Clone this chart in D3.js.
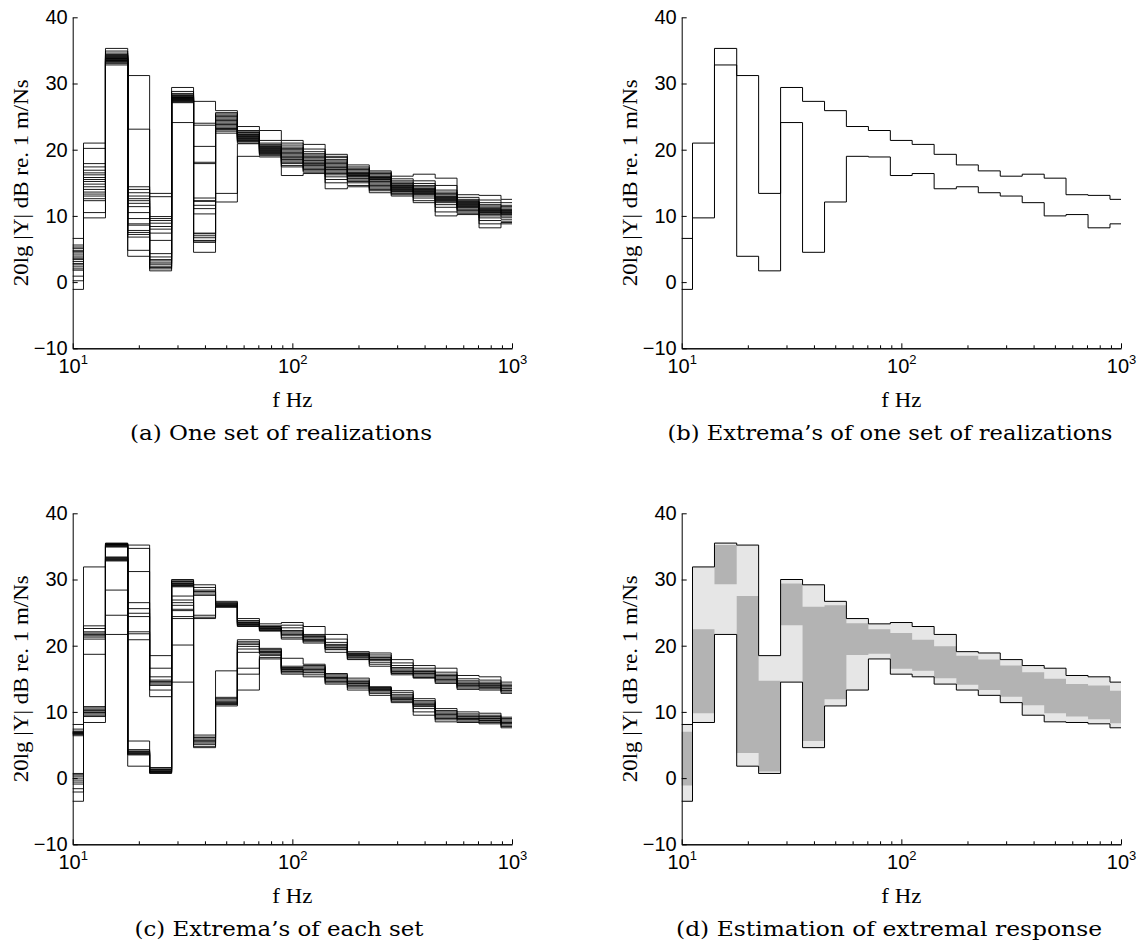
<!DOCTYPE html>
<html>
<head>
<meta charset="utf-8">
<script src="https://cdn.jsdelivr.net/npm/d3@7"></script>
<style>
  body { margin: 0; background: #fff; }
</style>
</head>
<body>
<div id="chart"></div>
<script>
// third-octave band edges (Hz), 21 bands centred 10 Hz ... 1000 Hz
const bandEdges = [8.91, 11.2, 14.1, 17.8, 22.4, 28.2, 35.5, 44.7, 56.2, 70.8, 89.1, 112, 141, 178, 224, 282, 355, 447, 562, 708, 891, 1122];
const yTicks = [-10, 0, 10, 20, 30, 40];
const xMajorTicks = [10, 100, 1000];
const xMinorTicks = [20, 30, 40, 50, 60, 70, 80, 90, 200, 300, 400, 500, 600, 700, 800, 900];

// (a) one set of realizations: band values of each realization, one array per band
const setA = [
  [6.6, 5.6, 5.3, 5.1, 4.8, 4.6, 4.4, 4.1, 3.8, 3.6, 3.4, 3.1, 2.8, 2.6, 2.3, 2.0, 1.8, 0.9, 0.2, -1.1],
  [21.0, 20.2, 17.9, 17.4, 16.9, 16.5, 16.2, 15.8, 15.5, 15.2, 14.8, 14.4, 14.0, 13.6, 13.3, 13.0, 12.6, 12.3, 10.5, 9.7],
  [35.3, 34.9, 34.6, 34.4, 34.3, 34.2, 34.1, 34.0, 33.9, 33.8, 33.8, 33.7, 33.6, 33.5, 33.5, 33.4, 33.3, 33.2, 33.0, 32.8],
  [31.2, 23.1, 14.4, 14.0, 13.5, 13.0, 12.6, 12.3, 11.9, 11.4, 10.5, 9.6, 8.8, 8.6, 7.8, 7.5, 7.2, 6.8, 4.8, 3.9],
  [13.4, 12.9, 9.9, 9.6, 9.3, 8.9, 8.4, 8.0, 7.4, 6.3, 4.3, 3.8, 3.4, 3.2, 2.9, 2.7, 2.4, 2.2, 2.0, 1.7],
  [29.4, 28.8, 28.5, 28.3, 28.2, 28.1, 28.0, 27.9, 27.9, 27.8, 27.7, 27.7, 27.6, 27.5, 27.5, 27.4, 27.3, 27.2, 27.1, 24.1],
  [27.3, 24.0, 23.7, 20.5, 18.1, 17.9, 12.7, 12.3, 12.2, 11.6, 11.1, 10.3, 7.4, 7.3, 7.0, 6.7, 6.3, 6.2, 6.0, 4.5],
  [25.9, 25.6, 25.4, 25.2, 25.0, 24.8, 24.6, 24.4, 24.2, 24.0, 23.8, 23.6, 23.4, 23.2, 23.1, 23.0, 22.8, 22.5, 13.4, 12.1],
  [23.5, 22.9, 22.7, 22.6, 22.4, 22.3, 22.2, 22.1, 22.0, 21.9, 21.8, 21.7, 21.6, 21.5, 21.4, 21.3, 21.2, 21.0, 20.9, 19.0],
  [22.9, 21.4, 21.0, 20.8, 20.6, 20.5, 20.4, 20.3, 20.2, 20.1, 20.0, 19.9, 19.8, 19.7, 19.6, 19.5, 19.4, 19.3, 19.1, 18.9],
  [21.4, 21.0, 20.7, 20.4, 20.2, 20.0, 19.8, 19.6, 19.4, 19.2, 19.0, 18.8, 18.6, 18.5, 18.3, 18.1, 17.9, 17.6, 17.4, 16.1],
  [20.8, 20.1, 19.7, 19.4, 19.2, 19.0, 18.8, 18.6, 18.4, 18.3, 18.1, 17.9, 17.8, 17.6, 17.4, 17.2, 17.0, 16.8, 16.6, 16.4],
  [19.3, 19.0, 18.8, 18.5, 18.3, 18.1, 17.9, 17.7, 17.5, 17.3, 17.1, 17.0, 16.8, 16.6, 16.4, 16.2, 15.9, 15.5, 15.0, 14.1],
  [17.7, 17.4, 17.2, 17.0, 16.8, 16.6, 16.5, 16.4, 16.3, 16.2, 16.1, 16.0, 15.9, 15.7, 15.6, 15.4, 15.2, 15.0, 14.6, 14.4],
  [16.8, 16.6, 16.4, 16.2, 16.0, 15.9, 15.8, 15.7, 15.6, 15.5, 15.4, 15.2, 15.0, 14.8, 14.6, 14.4, 14.2, 14.0, 13.8, 13.5],
  [16.0, 15.6, 15.3, 15.1, 14.9, 14.7, 14.6, 14.5, 14.4, 14.3, 14.2, 14.1, 14.0, 13.9, 13.8, 13.7, 13.6, 13.4, 13.2, 13.0],
  [16.3, 15.3, 14.9, 14.6, 14.4, 14.2, 14.1, 14.0, 13.9, 13.8, 13.7, 13.6, 13.5, 13.4, 13.3, 13.2, 13.0, 12.7, 12.3, 12.0],
  [15.7, 14.6, 13.9, 13.6, 13.4, 13.2, 13.0, 12.9, 12.8, 12.7, 12.6, 12.5, 12.4, 12.3, 12.2, 12.0, 11.7, 11.3, 10.6, 10.0],
  [13.2, 12.8, 12.5, 12.3, 12.2, 12.1, 12.0, 11.9, 11.8, 11.7, 11.6, 11.5, 11.4, 11.3, 11.2, 11.0, 10.8, 10.6, 10.4, 10.2],
  [13.1, 12.4, 12.0, 11.7, 11.5, 11.3, 11.1, 11.0, 10.9, 10.8, 10.7, 10.6, 10.5, 10.4, 10.2, 10.0, 9.7, 9.3, 8.8, 8.2],
  [12.5, 12.0, 11.6, 11.4, 11.2, 11.0, 10.9, 10.8, 10.7, 10.6, 10.5, 10.4, 10.3, 10.2, 10.0, 9.8, 9.5, 9.2, 9.0, 8.8]
];

// (c) maxima and minima of each set, one array per band
const setMax = [
  [8.1, 7.4, 7.1, 7.0, 6.9, 6.8, 6.8, 6.7, 6.6, 6.4],
  [31.9, 23.0, 22.6, 22.1, 21.9, 21.7, 21.5, 21.3, 21.0, 18.7],
  [35.5, 35.4, 35.4, 35.3, 35.3, 35.2, 35.2, 35.1, 35.0, 34.9],
  [35.2, 34.7, 31.2, 26.5, 25.6, 24.9, 24.4, 22.1, 21.8, 20.9],
  [18.5, 16.6, 15.3, 14.8, 14.6, 14.4, 14.2, 14.0, 13.3, 12.3],
  [30.0, 29.8, 29.7, 29.5, 29.4, 29.3, 29.2, 29.1, 29.0, 28.9],
  [29.2, 28.8, 28.4, 28.2, 28.1, 27.8, 27.6, 24.6, 24.3, 24.1],
  [26.7, 26.5, 26.4, 26.3, 26.2, 26.1, 26.0, 26.0, 25.9, 25.8],
  [24.1, 23.8, 23.6, 23.5, 23.4, 23.3, 23.2, 23.1, 23.0, 22.9],
  [23.3, 23.0, 22.9, 22.8, 22.7, 22.6, 22.5, 22.4, 22.3, 22.2],
  [23.5, 23.1, 22.7, 22.3, 22.1, 21.9, 21.7, 21.5, 21.2, 21.0],
  [22.9, 21.7, 21.5, 21.4, 21.2, 21.0, 20.9, 20.8, 20.6, 20.4],
  [21.7, 21.0, 20.5, 20.2, 20.0, 19.8, 19.7, 19.5, 19.4, 19.0],
  [19.1, 18.9, 18.8, 18.7, 18.6, 18.5, 18.4, 18.2, 18.0, 17.9],
  [18.9, 18.6, 18.3, 18.2, 18.0, 17.9, 17.8, 17.5, 17.2, 16.9],
  [17.9, 17.4, 17.0, 16.7, 16.5, 16.3, 16.1, 15.9, 15.8, 15.6],
  [17.0, 16.6, 16.3, 16.1, 16.0, 15.8, 15.6, 15.4, 15.2, 15.1],
  [16.6, 16.0, 15.7, 15.5, 15.3, 15.1, 14.9, 14.7, 14.5, 14.3],
  [15.5, 15.0, 14.7, 14.5, 14.3, 14.1, 14.0, 13.8, 13.6, 13.4],
  [15.3, 14.8, 14.5, 14.3, 14.1, 14.0, 13.8, 13.7, 13.5, 13.3],
  [14.5, 14.2, 14.0, 13.8, 13.6, 13.5, 13.3, 13.2, 13.0, 12.8]
];
const setMin = [
  [0.7, 0.5, 0.3, 0.0, -0.3, -0.6, -0.9, -1.6, -2.1, -3.5],
  [10.8, 10.6, 10.4, 10.2, 10.0, 9.9, 9.7, 9.5, 9.3, 8.4],
  [33.4, 33.3, 33.2, 33.1, 33.0, 32.9, 32.8, 28.4, 24.6, 21.7],
  [5.6, 4.3, 4.1, 4.0, 3.9, 3.8, 3.7, 3.6, 3.5, 1.8],
  [1.6, 1.4, 1.3, 1.2, 1.1, 1.0, 0.9, 0.9, 0.8, 0.7],
  [27.5, 26.9, 26.5, 26.1, 25.5, 25.3, 24.4, 24.1, 20.1, 14.5],
  [6.5, 6.2, 6.1, 5.9, 5.7, 5.5, 5.3, 5.1, 4.8, 4.6],
  [16.2, 12.2, 12.0, 11.8, 11.6, 11.4, 11.3, 11.2, 11.1, 10.9],
  [20.9, 20.6, 20.4, 20.2, 19.9, 19.5, 19.0, 16.6, 15.7, 13.3],
  [19.6, 19.4, 19.2, 19.1, 19.0, 18.9, 18.7, 18.5, 18.2, 18.0],
  [18.1, 16.9, 16.7, 16.6, 16.5, 16.4, 16.3, 16.1, 15.9, 15.7],
  [17.2, 17.0, 16.8, 16.6, 16.4, 16.2, 16.0, 15.9, 15.6, 15.3],
  [15.8, 15.6, 15.4, 15.2, 15.1, 15.0, 14.8, 14.6, 14.4, 14.2],
  [15.1, 14.8, 14.6, 14.4, 14.3, 14.2, 14.0, 13.8, 13.6, 13.3],
  [13.8, 13.7, 13.6, 13.5, 13.4, 13.3, 13.2, 13.0, 12.8, 12.5],
  [13.2, 12.9, 12.6, 12.4, 12.2, 12.0, 11.9, 11.8, 11.6, 11.4],
  [12.0, 11.7, 11.5, 11.3, 11.1, 11.0, 10.8, 10.5, 10.0, 9.5],
  [10.5, 10.2, 10.0, 9.8, 9.6, 9.4, 9.2, 9.0, 8.8, 8.5],
  [10.0, 9.7, 9.5, 9.3, 9.1, 9.0, 8.9, 8.8, 8.6, 8.4],
  [9.8, 9.5, 9.3, 9.1, 9.0, 8.9, 8.7, 8.6, 8.4, 8.2],
  [9.2, 9.0, 8.8, 8.6, 8.4, 8.3, 8.2, 8.0, 7.8, 7.6]
];

// (d) estimated extremal response (dark band)
const estHigh = [7.0, 22.5, 35.2, 27.5, 14.7, 29.4, 25.9, 26.1, 23.4, 22.5, 21.9, 20.9, 19.9, 18.5, 17.9, 17.0, 16.0, 15.0, 14.2, 14.0, 13.2];
const estLow = [-1.1, 9.8, 29.3, 3.8, 1.0, 23.1, 5.6, 11.9, 18.6, 18.8, 16.5, 16.2, 15.1, 14.1, 13.3, 12.3, 11.0, 9.8, 9.3, 8.9, 8.3];

const width = 1147, height = 945;
const plotW = 439.3, plotH = 331;
const sansFont = "'Liberation Sans', Arial, Helvetica, sans-serif";
const serifFont = "'Liberation Serif', 'Times New Roman', serif";

const panels = [
  { key: "a", left: 72.7, top: 17.3, caption: "(a) One set of realizations", capX: 281, capY: 440, capW: 302 },
  { key: "b", left: 681.7, top: 17.3, caption: "(b) Extrema\u2019s of one set of realizations", capX: 890, capY: 440, capW: 445 },
  { key: "c", left: 72.7, top: 513.3, caption: "(c) Extrema\u2019s of each set", capX: 279, capY: 936, capW: 289 },
  { key: "d", left: 681.7, top: 513.3, caption: "(d) Estimation of extremal response", capX: 889, capY: 936, capW: 426 }
];

const svg = d3.select("#chart").append("svg")
  .attr("width", width)
  .attr("height", height);

// turn a list of band values into step points [edge, value]
function stairPoints(vals) {
  var pts = vals.map((v, k) => [bandEdges[k], v]);
  pts.push([bandEdges[vals.length], vals[vals.length - 1]]);
  return pts;
}

const realizations = d3.range(setA[0].length).map(i => setA.map(b => b[i]));
const maxLines = d3.range(setMax[0].length).map(i => setMax.map(b => b[i]));
const minLines = d3.range(setMin[0].length).map(i => setMin.map(b => b[i]));

panels.forEach(function (p) {
  var x = d3.scaleLog().domain([10, 1000]).range([p.left, p.left + plotW]);
  var y = d3.scaleLinear().domain([-10, 40]).range([p.top + plotH, p.top]);

  var stair = d3.line()
    .x(d => x(d[0]))
    .y(d => y(d[1]))
    .curve(d3.curveStepAfter);

  var band = d3.area()
    .x(d => x(d[0]))
    .y0(d => y(d[1]))
    .y1(d => y(d[2]))
    .curve(d3.curveStepAfter);

  svg.append("clipPath").attr("id", "clip-" + p.key)
    .append("rect")
    .attr("x", p.left).attr("y", p.top - 2)
    .attr("width", plotW).attr("height", plotH + 4);

  var g = svg.append("g").attr("clip-path", "url(#clip-" + p.key + ")");

  if (p.key === "a") {
    g.selectAll("path").data(realizations).join("path")
      .attr("d", d => stair(stairPoints(d)))
      .attr("fill", "none").attr("stroke", "#000").attr("stroke-width", 0.9);
  }

  if (p.key === "b") {
    var hi = setA.map(b => d3.max(b)), lo = setA.map(b => d3.min(b));
    g.selectAll("path").data([hi, lo]).join("path")
      .attr("d", d => stair(stairPoints(d)))
      .attr("fill", "none").attr("stroke", "#000").attr("stroke-width", 1);
  }

  if (p.key === "c") {
    g.selectAll("path").data(maxLines.concat(minLines)).join("path")
      .attr("d", d => stair(stairPoints(d)))
      .attr("fill", "none").attr("stroke", "#000").attr("stroke-width", 0.9);
  }

  if (p.key === "d") {
    var outHi = setMax.map(b => d3.max(b)), outLo = setMin.map(b => d3.min(b));
    var outer = stairPoints(outLo).map((d, k) => [d[0], d[1], outHi[Math.min(k, outHi.length - 1)]]);
    var inner = stairPoints(estLow).map((d, k) => [d[0], d[1], estHigh[Math.min(k, estHigh.length - 1)]]);
    g.append("path").attr("d", band(outer)).attr("fill", "#e6e6e6");
    g.append("path").attr("d", band(inner)).attr("fill", "#b3b3b3");
    g.selectAll("path.env").data([outHi, outLo]).join("path")
      .attr("class", "env")
      .attr("d", d => stair(stairPoints(d)))
      .attr("fill", "none").attr("stroke", "#000").attr("stroke-width", 1);
  }

  // y axis, ticks pointing inward
  var yAxis = svg.append("g")
    .attr("transform", `translate(${p.left},0)`)
    .call(d3.axisLeft(y).tickValues(yTicks).tickSizeInner(-5).tickSizeOuter(0).tickPadding(5));
  yAxis.attr("font-family", sansFont);
  yAxis.selectAll("text").attr("font-size", 20).attr("fill", "#000");

  // x axis: minor ticks then major ticks with 10^n labels
  svg.append("g")
    .attr("transform", `translate(0,${p.top + plotH})`)
    .call(d3.axisBottom(x).tickValues(xMinorTicks).tickSizeInner(-3).tickSizeOuter(0).tickFormat(""));
  var xAxis = svg.append("g")
    .attr("transform", `translate(0,${p.top + plotH})`)
    .attr("font-family", sansFont)
    .call(d3.axisBottom(x).tickValues(xMajorTicks).tickSizeInner(-5).tickSizeOuter(0).tickFormat(""));
  xAxis.attr("font-family", sansFont);
  xAxis.selectAll(".tick").append("text")
    .attr("y", 25)
    .attr("text-anchor", "middle")
    .attr("fill", "#000")
    .attr("font-size", 20)
    .each(function (d) {
      var t = d3.select(this);
      t.append("tspan").text("10");
      t.append("tspan").attr("font-size", 13).attr("dy", -9).text(Math.round(Math.log10(d)));
    });

  svg.selectAll(".domain").attr("stroke", "#000");
  svg.selectAll(".tick line").attr("stroke", "#000");

  // axis labels
  svg.append("text")
    .attr("transform", `translate(${p.left - 45},${p.top + plotH / 2}) rotate(-90)`)
    .attr("text-anchor", "middle")
    .attr("font-family", serifFont)
    .attr("font-size", 21)
    .attr("textLength", 207)
    .attr("lengthAdjust", "spacingAndGlyphs")
    .text("20lg |Y| dB re. 1 m/Ns");

  svg.append("text")
    .attr("x", p.left + plotW / 2)
    .attr("y", p.top + plotH + 59)
    .attr("text-anchor", "middle")
    .attr("font-family", serifFont)
    .attr("font-size", 20)
    .attr("textLength", 40)
    .attr("lengthAdjust", "spacingAndGlyphs")
    .text("f Hz");

  // caption
  svg.append("text")
    .attr("x", p.capX)
    .attr("y", p.capY)
    .attr("text-anchor", "middle")
    .attr("font-family", "'DejaVu Serif', serif")
    .attr("font-size", 21)
    .attr("textLength", p.capW)
    .attr("lengthAdjust", "spacingAndGlyphs")
    .text(p.caption);
});
</script>
</body>
</html>
